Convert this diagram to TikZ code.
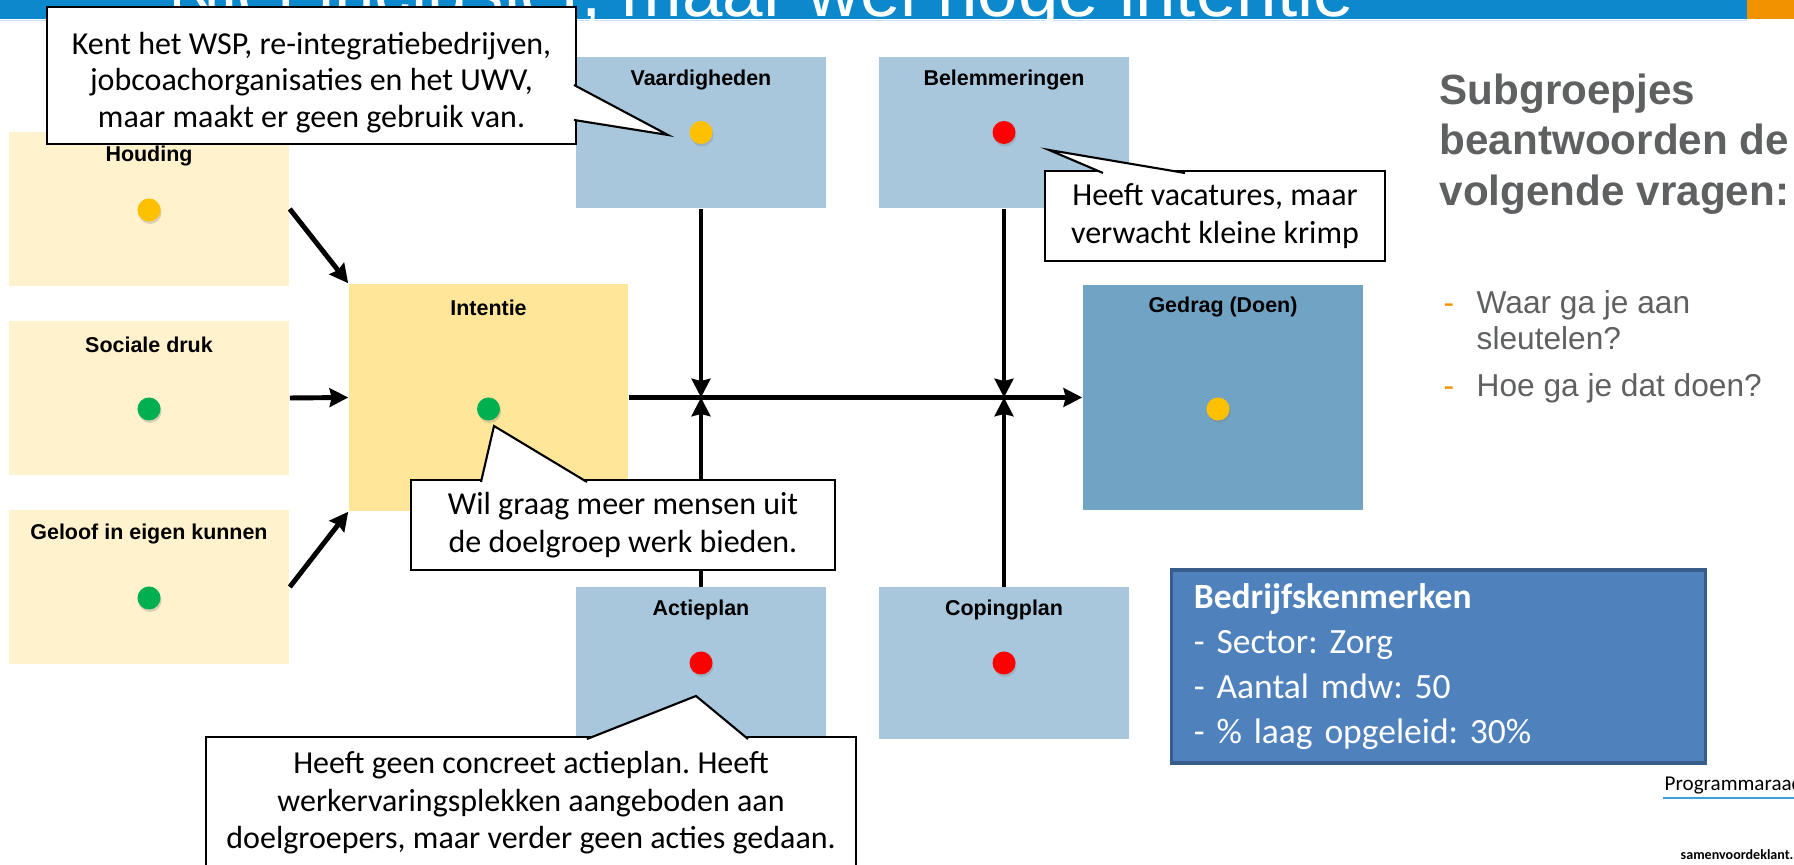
\documentclass[tikz,border=0pt]{standalone}
\usepackage{fontspec}
\setmainfont{Liberation Sans}
\newfontfamily\calibri{Carlito}
\usetikzlibrary{arrows.meta, positioning, shadows}
\frenchspacing

\definecolor{titleblue}{RGB}{11,137,204}
\definecolor{titleorange}{RGB}{243,146,0}
\definecolor{barlight}{RGB}{200,226,242}
\definecolor{paleyellow}{RGB}{255,242,204}
\definecolor{intentyellow}{RGB}{255,230,153}
\definecolor{paleblue}{RGB}{169,199,220}
\definecolor{gedragblue}{RGB}{113,163,196}
\definecolor{kenmerkblue}{RGB}{79,129,189}
\definecolor{kenmerkborder}{RGB}{56,93,138}
\definecolor{dotyellow}{RGB}{255,192,0}
\definecolor{dotgreen}{RGB}{0,176,80}
\definecolor{dotred}{RGB}{255,0,0}
\definecolor{textgray}{RGB}{95,96,98}
\definecolor{footerblue}{RGB}{60,160,215}

\tikzset{
  factor/.style = {fill = paleyellow, minimum width = 2.8cm,
    minimum height = 1.53cm, inner sep = 0pt},
  intention/.style = {fill = intentyellow, minimum width = 2.79cm,
    minimum height = 2.27cm, inner sep = 0pt},
  moderator/.style = {fill = paleblue, minimum width = 2.5cm,
    minimum height = 1.51cm, inner sep = 0pt},
  behaviour/.style = {fill = gedragblue, minimum width = 2.8cm,
    minimum height = 2.25cm, inner sep = 0pt},
  boxlabel/.style = {font = \bfseries\fontsize{6.1}{7}\selectfont,
    inner sep = 0pt},
  statusdot/.style = {circle, minimum size = 0.23cm, inner sep = 0pt,
    drop shadow = {shadow xshift = 0.3pt, shadow yshift = -0.7pt,
      opacity = 0.3}},
  flow/.style = {line width = 1.4pt,
    -{Stealth[length = 5.3pt, width = 5.3pt, inset = 0.6pt]}},
  balloon/.style = {draw, fill = white, line width = 0.6pt,
    align = center, font = \calibri\fontsize{9.1}{10.7}\selectfont},
  balloontext/.style = {align = center, inner sep = 0pt,
    font = \calibri\fontsize{9.1}{10.3}\selectfont},
  balloontip/.style = {draw, fill = white, line width = 0.6pt},
  titletext/.style = {text = white, font = \fontsize{20.7}{25}\selectfont,
    inner sep = 0pt},
  heading/.style = {text = textgray, align = left, inner sep = 0pt,
    font = \bfseries\fontsize{12}{14.5}\selectfont},
  question/.style = {text = textgray, align = left, inner sep = 0pt,
    font = \fontsize{9}{10.3}\selectfont},
  bulletdash/.style = {text = titleorange, inner sep = 0pt,
    font = \fontsize{9}{10.3}\selectfont},
  kenmerken/.style = {draw = kenmerkborder, line width = 0.9pt,
    fill = kenmerkblue, text = white, minimum width = 5.33cm,
    minimum height = 1.93cm, text width = 4.89cm, inner xsep = 0.22cm,
    align = left, font = \calibri\fontsize{10.1}{12.8}\selectfont},
  footer/.style = {inner sep = 0pt, font = \calibri\fontsize{6}{7}\selectfont}
}

\begin{document}
\begin{tikzpicture}[x = 0.01cm, y = -0.01cm]
  \useasboundingbox (0, 0) rectangle (1794, 865);
  % title bar, title runs off the top
  \fill[titleblue] (0, 0) rectangle (1794, 19);
  \fill[titleorange] (1747, 0) rectangle (1794, 19);
  \draw[barlight, line width = 0.3pt] (0, 20.5) -- (1747, 20.5);
  \node[titletext, anchor = base west] (titel) at (168, 17)
  {Niet inclusief, maar wel hoge intentie};

  % factors on the left
  \foreach \name/\y/\dy/\lbl/\col in {houding/209/210/Houding/dotyellow,
    sociale/398/409/Sociale druk/dotgreen,
    geloof/587/598/Geloof in eigen kunnen/dotgreen}{
    \node[factor] (\name) at (149, \y) {};
    \node[boxlabel] (\name lbl) at ([yshift = -0.24cm]\name.north) {\lbl};
    \node[statusdot, fill = \col] (\name dot) at (149, \dy) {};
  }

  % intention and behaviour
  \node[intention] (intentie) at (488.5, 397.5) {};
  \node[boxlabel] (intentielbl) at ([yshift = -0.25cm]intentie.north)
  {Intentie};
  \node[statusdot, fill = dotgreen] (intentiedot) at (488.5, 409) {};
  \node[behaviour] (gedrag) at (1223, 397.5) {};
  \node[boxlabel] (gedraglbl) at ([yshift = -0.23cm]gedrag.north)
  {Gedrag (Doen)};
  \node[statusdot, fill = dotyellow] (gedragdot) at (1218, 409) {};

  % boxes above and below the main line
  \foreach \name/\x/\y/\lbl/\col in {vaard/701/132.5/Vaardigheden/dotyellow,
    belem/1004/132.5/Belemmeringen/dotred,
    actie/701/663/Actieplan/dotred,
    coping/1004/663/Copingplan/dotred}{
    \node[moderator] (\name) at (\x, \y) {};
    \node[boxlabel] (\name lbl) at ([yshift = -0.235cm]\name.north) {\lbl};
    \node[statusdot, fill = \col] (\name dot) at (\x, \y) {};
  }

  % arrows
  \draw[flow] (houding.east) -- (intentie.north west);
  \draw[flow] (sociale.east) -- (intentie.west);
  \draw[flow] (geloof.east) -- (intentie.south west);
  \draw[flow] (intentie.east) -- (gedrag.west);
  \coordinate (knoopa) at (vaard.south |- intentie.east);
  \coordinate (knoopb) at (belem.south |- intentie.east);
  \draw[flow] (vaard.south) -- (knoopa);
  \draw[flow] (actie.north) -- (knoopa);
  \draw[flow] (belem.south) -- (knoopb);
  \draw[flow] (coping.north) -- (knoopb);

  % callouts
  \node[balloon, minimum width = 5.29cm, minimum height = 1.37cm] (kent)
  at (311.5, 75.5) {};
  \coordinate (kenttip) at (668, 135);
  \path[balloontip] (574, 85) -- (kenttip) -- (574, 120);
  \node[balloontext] (kenttekst) at ([yshift = -0.07cm]kent.center)
  {Kent het WSP, re-integratiebedrijven,\\
    jobcoachorganisaties en het UWV,\\maar maakt er geen gebruik van.};

  \node[balloon, minimum width = 4.24cm, minimum height = 0.9cm] (wil)
  at (623, 525) {Wil graag meer mensen uit\\de doelgroep werk bieden.};
  \coordinate (wiltip) at (494, 426);
  \path[balloontip] (481, 482) -- (wiltip) -- (587, 482);

  \node[balloon, minimum width = 6.5cm, minimum height = 1.32cm] (plan)
  at (531, 803) {Heeft geen concreet actieplan. Heeft\\
    werkervaringsplekken aangeboden aan\\
    doelgroepers, maar verder geen acties gedaan.};
  \coordinate (plantip) at (696, 696);
  \path[balloontip] (587, 739) -- (plantip) -- (748, 739);

  \node[balloon, minimum width = 3.4cm, minimum height = 0.9cm] (vacature)
  at (1215, 216) {Heeft vacatures, maar\\verwacht kleine krimp};
  \coordinate (vacaturetip) at (1049, 150);
  \path[balloontip] (1103, 173) -- (vacaturetip) -- (1185, 173);

  % questions on the right (base = baseline of the last line)
  \node[heading, anchor = base west] (subgroep) at (1439, 206)
  {Subgroepjes\\beantwoorden de\\volgende vragen:};
  \node[bulletdash, anchor = base west] (streepa) at (1443, 314) {-};
  \node[question, anchor = base west] (vraaga) at (1476, 350)
  {Waar ga je aan\\sleutelen?};
  \node[bulletdash, anchor = base west] (streepb) at (1443, 397) {-};
  \node[question, anchor = base west] (vraagb) at (1476, 397)
  {Hoe ga je dat doen?};

  % company facts
  \node[kenmerken] (bedrijf) at (1438.5, 666.5)
  {\textbf{Bedrijfskenmerken}\\- Sector: Zorg\\- Aantal mdw: 50\\
    - \% laag opgeleid: 30\%};

  % footer
  \node[footer, anchor = base west] (programma) at (1664, 791)
  {Programmaraad};
  \draw[footerblue, line width = 0.5pt] (1663, 798) -- (1794, 798);
  \node[footer, font = \calibri\bfseries\fontsize{4}{5}\selectfont,
    anchor = base west] (website) at (1680, 860) {samenvoordeklant.nl};
\end{tikzpicture}
\end{document}
